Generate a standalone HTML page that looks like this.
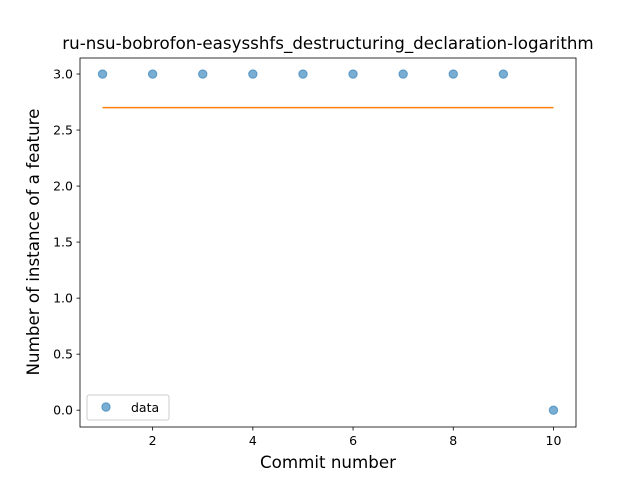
<!DOCTYPE html>
<html><head><meta charset="utf-8"><style>
body{margin:0;background:#fff;}
svg text{font-family:"DejaVu Sans","Liberation Sans",sans-serif;fill:#000;}
</style></head><body>
<svg id="chart" width="640" height="480" xmlns="http://www.w3.org/2000/svg">
<rect width="640" height="480" fill="#fff"/>
<text x="328" y="49" font-size="16.7" text-anchor="middle">ru-nsu-bobrofon-easysshfs_destructuring_declaration-logarithm</text>
<g id="plot"></g>
<text x="328" y="468" font-size="16.7" text-anchor="middle">Commit number</text>
<text transform="translate(39,242) rotate(-90)" font-size="16.7" text-anchor="middle">Number of instance of a feature</text>
</svg>
<script>
const commits=[1,2,3,4,5,6,7,8,9,10];
const counts=[3,3,3,3,3,3,3,3,3,0];
const fitValue=2.7;
const xTicks=[2,4,6,8,10];
const yTicks=[0.0,0.5,1.0,1.5,2.0,2.5,3.0];
const L=80,R=576,T=58,B=427;
const xmin=0.55,xmax=10.45,ymin=-0.15,ymax=3.143;
const X=v=>L+(v-xmin)/(xmax-xmin)*(R-L);
const Y=v=>B-(v-ymin)/(ymax-ymin)*(B-T);
const ns="http://www.w3.org/2000/svg";
const g=document.getElementById('plot');
function mk(t,a){const e=document.createElementNS(ns,t);for(const k in a)e.setAttribute(k,a[k]);g.appendChild(e);return e;}
xTicks.forEach(v=>{
 const l=mk('line',{x1:X(v),x2:X(v),y1:B,y2:B+3.5,stroke:'#000','stroke-width':0.8});
 
 
 const t=mk('text',{x:X(v),y:B+18,'font-size':12.5,'text-anchor':'middle'});t.textContent=v;
 
 
});
yTicks.forEach(v=>{
 const l=mk('line',{x1:L-3.5,x2:L,y1:Y(v),y2:Y(v),stroke:'#000','stroke-width':0.8});
 
 
 const t=mk('text',{x:L-7,y:Y(v)+4.5,'font-size':12.5,'text-anchor':'end'});t.textContent=v.toFixed(1);
 
 
});
commits.forEach((c,i)=>{
 const p=mk('circle',{cx:X(c),cy:Y(counts[i]),r:4.2,fill:'#1f77b4','fill-opacity':0.6,stroke:'#1f77b4','stroke-opacity':0.6});
 
 
});
const fl=mk('line',{x1:X(commits[0]),x2:X(commits[commits.length-1]),y1:Y(fitValue),y2:Y(fitValue),stroke:'#ff7f0e','stroke-width':1.5});


const fr=mk('rect',{x:L,y:T,width:R-L,height:B-T,fill:'none',stroke:'#000','stroke-width':0.8});


const lg=mk('rect',{x:87,y:395,width:82,height:25,rx:2,fill:'#fff','fill-opacity':0.8,stroke:'#ccc'});


const lm=mk('circle',{cx:106,cy:407,r:4.2,fill:'#1f77b4','fill-opacity':0.6,stroke:'#1f77b4','stroke-opacity':0.6});


const lt=mk('text',{x:131,y:412,'font-size':12.5});lt.textContent='data';


</script>
</body></html>
